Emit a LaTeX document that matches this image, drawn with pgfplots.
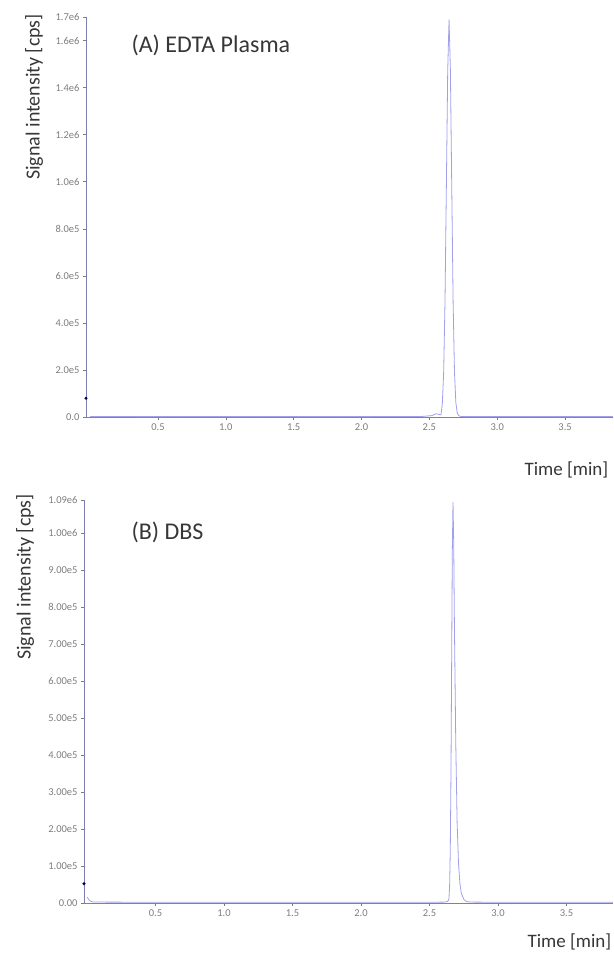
\documentclass[border=0pt]{standalone}
\usepackage{pgfplots}
\pgfplotsset{compat=1.18}
\usepackage{fontspec}
\setmainfont{Carlito}
\definecolor{trace}{RGB}{160,160,235}
\definecolor{axisc}{RGB}{125,125,175}
\definecolor{tickc}{RGB}{125,125,125}
\definecolor{textc}{RGB}{55,55,55}
\pgfplotsset{
  chrom/.style={
    scale only axis, anchor=south west,
    axis x line=bottom, axis y line=left,
    axis line style={-, axisc, line width=0.8pt},
    tick style={tickc, line width=0.5pt},
    major tick length=3pt, minor tick length=1.5pt,
    tick align=outside,
    xtick={0.5,1.0,1.5,2.0,2.5,3.0,3.5},
    xticklabels={0.5,1.0,1.5,2.0,2.5,3.0,3.5},
    minor x tick num=4,
    scaled y ticks=false, scaled x ticks=false,
    ticklabel style={font=\fontsize{10.5}{12}\selectfont, text=tickc},
    /pgf/number format/assume math mode=true,
    clip=false,
  }
}
\begin{document}
\begin{tikzpicture}[x=1pt,y=1pt]
\path[use as bounding box] (0,0) rectangle (613,963);
\clip (0,0) rectangle (613,963);
% Panel A
\begin{axis}[chrom, at={(86pt,546pt)}, width=527pt, height=400pt,
  xmin=-0.03, xmax=3.853, ymin=0, ymax=1.7e6,
  ytick={0,2e5,4e5,6e5,8e5,1e6,1.2e6,1.4e6,1.6e6,1.7e6},
  yticklabels={0.0,2.0e5,4.0e5,6.0e5,8.0e5,1.0e6,1.2e6,1.4e6,1.6e6,1.7e6}]
\addplot[trace, line width=0.8pt] coordinates {
(0.00,2000) (0.5,1500) (1.0,1500) (1.5,1500) (2.0,1500) (2.45,2500) (2.52,6000)
(2.55,14000) (2.57,11000) (2.585,9000) (2.595,53000) (2.605,184000) (2.615,486000) (2.625,970000)
(2.635,1470000) (2.645,1690000) (2.655,1470000) (2.665,970000) (2.675,486000)
(2.685,190000) (2.695,62000) (2.705,18000) (2.715,6000) (2.73,2500)
(2.8,1500) (3.0,1500) (3.5,1500) (3.853,1500)};
\addplot[only marks, mark=*, mark size=1.3pt, color=black!70!blue] coordinates {(-0.03,80000)};
\end{axis}
% Panel B
\begin{axis}[chrom, at={(84pt,60pt)}, width=529pt, height=403pt,
  xmin=-0.022, xmax=3.84, ymin=0, ymax=1.09e6,
  ytick={0,1e5,2e5,3e5,4e5,5e5,6e5,7e5,8e5,9e5,1e6,1.09e6},
  yticklabels={0.00,1.00e5,2.00e5,3.00e5,4.00e5,5.00e5,6.00e5,7.00e5,8.00e5,9.00e5,1.00e6,1.09e6}]
\addplot[trace, line width=0.8pt] coordinates {
(0.00,16000) (0.01,11000) (0.02,6000) (0.04,3000) (0.08,2500) (0.5,2000) (1.0,2000)
(1.5,2000) (2.0,2000) (2.5,2000) (2.62,2500) (2.637,6000) (2.642,11000) (2.647,43000)
(2.652,141000) (2.657,347000) (2.662,651000) (2.667,955000) (2.672,1085000)
(2.677,976000) (2.682,760000) (2.692,434000) (2.702,217000) (2.712,108000)
(2.722,54000) (2.732,27000) (2.752,9000) (2.772,3500) (2.8,2500) (3.0,2000)
(3.5,2000) (3.84,2000)};
\addplot[only marks, mark=*, mark size=1.3pt, color=black!70!blue] coordinates {(-0.022,52000)};
\end{axis}
% Text
\node[anchor=west, text=textc, font=\fontsize{24}{28}\selectfont] at (128,918) {(A) EDTA Plasma};
\node[anchor=west, text=textc, font=\fontsize{24}{28}\selectfont] at (128,431) {(B) DBS};
\node[rotate=90, text=textc, font=\fontsize{20}{24}\selectfont] at (34,866) {Signal intensity [cps]};
\node[rotate=90, text=textc, font=\fontsize{20}{24}\selectfont] at (25,386) {Signal intensity [cps]};
\node[anchor=west, text=textc, font=\fontsize{19}{22}\selectfont] at (521,493) {Time [min]};
\node[anchor=west, text=textc, font=\fontsize{19}{22}\selectfont] at (524,21) {Time [min]};
\end{tikzpicture}
\end{document}
